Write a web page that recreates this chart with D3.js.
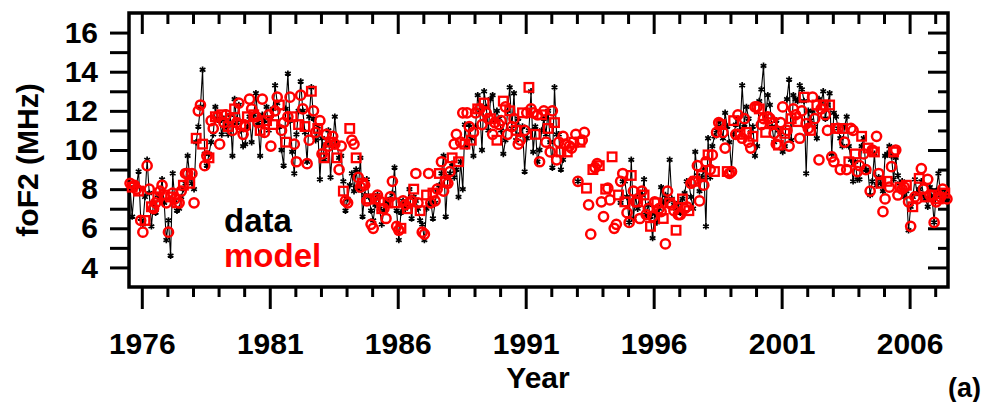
<!DOCTYPE html>
<html>
<head>
<meta charset="utf-8">
<script src="https://cdn.jsdelivr.net/npm/d3@7"></script>
<style>
  body { margin: 0; background: #fff; }
  svg text { font-family: "Liberation Sans", Arial, Helvetica, sans-serif; font-weight: bold; }
</style>
</head>
<body>
<svg id="chart" width="997" height="402"></svg>
<script>
// monthly foF2 values, first point = July 1975
const startYear = 1975;
const startMonth = 6; // 0-based -> July

// measured foF2 (MHz), null = no data
const dataValues = [
  8.1, 6.6, 8.0, 8.2, 8.9, 6.5,                                   // 1975 Jul-Dec
  6.2, 7.6, 9.5, 7.8, 6.1, 7.3, 6.8, 7.7, 7.6, 8.5, 7.3, 5.4,     // 1976
  6.4, 4.6, 8.8, 7.4, 6.9, 7.0, 7.6, 8.0, 8.3, 9.7, 8.6, 8.3,     // 1977
  8.0, 10.4, 11.2, 12.2, 14.1, 9.8, 9.2, 9.8, 10.4, 10.8, 12.2, 11.6,
  11.5, 10.8, 11.6, 11.2, 10.8, 11.8, 9.7, 12.6, 11.4, 12.3, 11.0, 10.2,
  10.3, 11.2, 11.7, 10.4, 11.8, 12.9, 11.4, 9.7, 11.8, 11.5, 12.2, 11.0, // 1980
  11.6, 12.1, 13.3, 12.4, 11.2, 10.0, 9.2, 12.1, 13.9, 11.5, 9.9, 8.8,
  10.8, 12.0, 13.5, 12.0, 10.9, 9.4, 11.7, 13.2, 11.6, 10.5, 11.2, 8.5,
  10.6, 9.5, 10.3, 11.0, 8.6, 10.2, 11.7, 10.3, 9.6, 9.7, 8.4, 6.9,
  7.5, 8.2, 8.8, 7.9, 9.0, 8.0, 9.6, 6.6, 7.7, 8.5, 7.6, 6.9,
  6.4, 7.2, 7.7, 7.0, 6.2, 6.9, 7.4, 7.2, 7.5, 7.8, 9.1, 6.9,     // 1985
  5.4, 6.8, 7.4, 7.0, 7.2, 8.0, 6.5, 7.6, 7.4, 7.0, 6.4, 6.2,
  5.4, 7.0, 7.2, 7.4, 6.5, 7.3, 7.9, 8.2, 8.8, 9.7, 6.6, 8.6,
  8.8, 9.3, 8.6, 9.0, 7.6, 9.4, 8.0, 11.3, 10.2, 11.3, 10.6, 9.7,
  11.2, 12.8, 12.0, 10.0, 13.0, 12.2, 11.0, 12.6, 12.8, 11.5, 12.0, 11.6,
  11.0, 9.8, 10.5, 12.0, 13.2, 11.1, 12.9, 10.5, 11.6, 10.8, 11.2, 8.9, // 1990
  10.6, 11.0, 13.0, 9.9, 11.2, 9.4, 10.0, 11.0, 11.6, 10.8, 12.0, 10.4,
  9.1, 13.2, 10.8, 10.8, 9.0, 9.5, null, null, null, null, null, null,
  8.4, null, null, null, null, null, null, null, null, null, null, null,
  null, null, null, null, null, null, null, null, 7.3, 8.4, 8.4, 7.6,
  6.3, 9.5, 6.5, 7.6, 7.0, 7.8, 7.7, 8.5, 6.7, 7.2, 6.6, 5.5,     // 1995
  6.8, 6.3, 7.0, 8.1, 7.3, 7.7, 7.4, 9.5, 7.5, 7.2, 7.0, 7.3,
  6.8, 7.5, 7.8, 8.4, 8.3, 7.6, 7.0, 9.9, 8.7, 7.9, 8.6, 9.0,
  6.1, 10.6, 8.6, 10.2, 10.7, 11.0, 11.5, 11.2, 10.6, 11.9, 11.2, 10.4,
  9.0, 10.8, 11.3, 11.6, 11.0, 13.3, 11.3, 12.2, 11.6, 10.9, 11.2, 9.7,
  10.2, 12.5, 13.1, 14.3, 11.7, 12.8, 12.3, 11.2, 10.4, 11.5, 11.0, 10.8, // 2000
  9.9, 10.2, 12.6, 13.6, 10.5, 12.8, 12.6, 12.5, 13.3, 13.1, 12.5, 8.8,
  12.0, 11.5, 12.0, 11.2, 10.6, 12.6, 12.4, 13.0, 11.6, 12.3, 12.9, 9.8,
  11.9, 11.7, 11.1, 10.6, 10.2, 11.2, 11.7, 10.2, 9.5, 8.4, 9.4, 8.5,
  8.5, 10.2, 10.6, 9.0, 8.9, 7.7, 8.4, 9.8, 8.2, 8.6, 8.3, 7.9,
  9.7, 9.8, 10.2, 9.7, 8.5, 9.6, 8.7, 8.3, 8.4, 7.6, 7.9, 5.9,    // 2005
  7.1, 7.6, 8.5, 7.8, 8.0, 8.4, 7.7, 7.5, 7.1, 8.1, 7.6, 6.3,
  7.9, 8.8, 7.7, 7.5, 7.8, 7.4                                    // 2007 Jan-Jun
];

// model foF2 (MHz)
const modelValues = [
  8.3, 8.1, 8.2, 8.0, 7.9, 6.4,
  5.8, 6.4, 9.2, 8.0, 7.1, 7.0, 7.3, 7.6, 7.9, 8.2, 7.7, 7.3,
  5.8, 7.6, 7.8, 7.5, 7.3, 7.3, 7.9, 8.2, 8.8, 8.8, 8.3, 8.8,
  7.3, 10.6, 12.0, 12.3, 10.3, 9.2, 9.7, 9.6, 11.5, 11.1, 11.7, 11.7,
  10.3, 11.8, 11.4, 11.8, 11.2, 11.6, 11.0, 12.1, 11.4, 12.4, 11.3, 10.8,
  11.2, 11.7, 12.6, 12.1, 11.8, 11.7, 11.4, 11.0, 12.6, 10.9, 11.5, 11.8,
  10.2, 11.3, 12.0, 12.7, 12.3, 11.0, 11.4, 10.4, 11.7, 12.7, 11.7, 10.3,
  9.4, 11.3, 12.8, 12.1, 11.2, 9.3, 10.5, 13.0, 12.0, 10.9, 11.1, 11.5,
  9.8, 9.6, 10.8, 10.2, 10.4, 10.7, 10.3, 9.6, 9.0, 10.2, 7.9, 7.4,
  7.3, 11.1, 10.5, 10.3, 9.6, 8.6, 8.1, 8.3, 8.2, 7.4, 7.5, 6.2,
  6.0, 7.5, 7.7, 7.4, 7.0, 7.0, 6.5, 7.3, 7.6, 8.4, 7.3, 6.1,
  5.9, 6.0, 7.4, 7.2, 7.0, 7.3, 7.4, 8.0, 8.8, 7.3, 6.9, 5.8,
  5.7, 7.7, 8.8, 7.3, 7.8, 7.4, 8.0, 8.8, 9.4, 7.9, 8.4, 8.3,
  8.9, 9.6, 10.3, 10.8, 9.4, 10.4, 11.9, 10.3, 11.9, 11.2, 10.5, 10.9,
  11.9, 12.1, 12.1, 11.3, 12.4, 11.9, 11.6, 11.6, 10.8, 11.4, 10.5, 11.3,
  11.5, 12.5, 12.2, 10.8, 12.0, 11.2, 11.6, 11.0, 10.3, 10.5, 11.9, 11.0,
  11.9, 13.2, 12.1, 11.9, 10.8, 11.8, 9.4, 11.8, 12.0, 10.4, 11.1, 9.9,
  12.0, 11.4, 9.5, 10.4, 9.9, 10.7, 10.3, 9.9, 10.2, 10.1, 10.4, 10.8,
  8.4, 10.4, 10.5, 10.9, 8.05, 7.2, 5.7, 9.0, 9.1, 9.3, 9.2, 7.35,
  6.6, 8.0, 8.05, 7.45, 9.65, 6.0, 6.2, 7.7, 8.4, 8.8, 7.35, 6.8,
  6.3, 8.7, 7.9, 7.35, 7.35, 6.5, 7.9, 7.7, 6.7, 7.0, 6.1, 6.6,
  7.35, 7.3, 7.0, 6.85, 6.5, 5.2, 7.9, 7.3, 7.2, 6.9, 5.9, 6.7,
  6.7, 7.5, 7.0, 7.1, 6.9, 8.3, 8.4, 8.4, 9.2, 7.4, 8.7, 8.2,
  9.4, 9.75, 9.0, 9.75, 8.9, 10.9, 11.4, 11.3, 10.9, 10.1, 8.9, 8.8,
  8.9, 11.5, 10.8, 11.8, 10.8, 10.6, 11.6, 10.9, 10.4, 10.1, 10.7, 12.2,
  12.2, 12.1, 11.3, 11.6, 10.9, 11.7, 11.6, 11.4, 10.85, 10.3, 10.25, 11.4,
  12.2, 10.85, 11.0, 10.2, 11.6, 12.1, 11.8, 11.45, 10.6, 12.0, 12.7, 11.35,
  11.1, 11.0, 12.7, 11.6, 12.3, 9.5, 12.1, 12.3, 11.8, 11.0, 12.3, 9.65,
  9.4, 11.1, 11.1, 9.0, 11.1, 10.4, 9.0, 9.4, 11.1, 11.0, 9.8, 8.9,
  9.2, 10.7, 9.8, 9.0, 10.1, 7.9, 10.0, 9.9, 10.7, 8.8, 8.3, 6.85,
  7.5, 8.4, 8.1, 9.15, 9.9, 10.0, 7.7, 8.1, 8.0, 8.1, 8.2, 7.35,
  6.1, 7.1, 7.6, 7.5, 8.55, 9.05, 8.0, 7.6, 8.5, 7.7, 7.7, 6.3,
  7.35, 7.5, 7.6, 8.0, 7.8, 7.5
];

const yearTicks = d3.range(1976, 2008);
const yearLabels = [1976, 1981, 1986, 1991, 1996, 2001, 2006];
const yTicks = d3.range(4, 17);
const yLabels = [4, 6, 8, 10, 12, 14, 16];

const svg = d3.select("#chart");
const plotLeft = 129, plotRight = 948, plotTop = 13, plotBottom = 287;

const x = d3.scaleLinear().domain([1975.5, 2007.5]).range([plotLeft, plotRight]);
const y = d3.scaleLinear().domain([3, 17]).range([plotBottom, plotTop]);

const monthPos = i => startYear + (startMonth + i + 0.5) / 12;

const dataPts = dataValues.map((v, i) => ({ t: monthPos(i), v: v }));
const modelPts = modelValues.map((v, i) => ({ t: monthPos(i), v: v, sq: i % 3 === 1 }));

// axes helper
function drawAxis(axis, transform) {
  const g = svg.append("g").attr("transform", transform).call(axis);
  g.select(".domain").remove();
  g.selectAll(".tick line").attr("stroke", "#000").attr("stroke-width", 3);
  g.selectAll(".tick text").attr("fill", "#000").attr("font-size", 30)
    .attr("font-family", '"Liberation Sans", Arial, sans-serif').attr("font-weight", "bold");
  return g;
}
const minorYears = yearTicks.filter(d => !yearLabels.includes(d));
const minorY = yTicks.filter(d => !yLabels.includes(d));

// bottom: outward
drawAxis(d3.axisBottom(x).tickValues(minorYears).tickSize(10).tickFormat(""), `translate(0,${plotBottom})`);
drawAxis(d3.axisBottom(x).tickValues(yearLabels).tickSize(22).tickPadding(24).tickFormat(d3.format("d")), `translate(0,${plotBottom})`);
// top: inward
drawAxis(d3.axisTop(x).tickValues(minorYears).tickSize(-11).tickFormat(""), `translate(0,${plotTop})`);
drawAxis(d3.axisTop(x).tickValues(yearLabels).tickSize(-21).tickFormat(""), `translate(0,${plotTop})`);
// left: outward, all same length
drawAxis(d3.axisLeft(y).tickValues(yTicks).tickSize(19).tickPadding(12)
  .tickFormat(d => yLabels.includes(d) ? d : ""), `translate(${plotLeft},0)`);
// right: inward
drawAxis(d3.axisRight(y).tickValues(minorY).tickSize(-10).tickFormat(""), `translate(${plotRight},0)`);
drawAxis(d3.axisRight(y).tickValues(yLabels).tickSize(-20).tickFormat(""), `translate(${plotRight},0)`);

// frame
svg.append("rect")
  .attr("x", plotLeft).attr("y", plotTop)
  .attr("width", plotRight - plotLeft).attr("height", plotBottom - plotTop)
  .attr("fill", "none").attr("stroke", "#000").attr("stroke-width", 3.5);

const plot = svg.append("g");

// data line
const line = d3.line()
  .defined(d => d.v !== null)
  .x(d => x(d.t)).y(d => y(d.v));
plot.append("path")
  .datum(dataPts)
  .attr("fill", "none")
  .attr("stroke", "#000")
  .attr("stroke-width", 1.1)
  .attr("d", line);

// data markers
plot.selectAll(".dmark")
  .data(dataPts.filter(d => d.v !== null))
  .enter().append("path")
  .attr("class", "dmark")
  .attr("transform", d => `translate(${x(d.t)},${y(d.v)})`)
  .attr("d", d3.symbol(d3.symbolAsterisk, 30))
  .attr("fill", "none")
  .attr("stroke", "#000")
  .attr("stroke-width", 1.7);

// model markers
plot.selectAll(".mcirc")
  .data(modelPts.filter(d => !d.sq))
  .enter().append("circle")
  .attr("class", "mcirc")
  .attr("cx", d => x(d.t)).attr("cy", d => y(d.v))
  .attr("r", 4.6)
  .attr("fill", "none")
  .attr("stroke", "#ff0000")
  .attr("stroke-width", 2.5);

plot.selectAll(".msq")
  .data(modelPts.filter(d => d.sq))
  .enter().append("rect")
  .attr("class", "msq")
  .attr("x", d => x(d.t) - 4.3).attr("y", d => y(d.v) - 4.3)
  .attr("width", 8.6).attr("height", 8.6)
  .attr("fill", "none")
  .attr("stroke", "#ff0000")
  .attr("stroke-width", 2.3);

// legend
svg.append("text").attr("x", 224).attr("y", 232)
  .attr("font-size", 33).attr("fill", "#000").text("data");
svg.append("text").attr("x", 224).attr("y", 267)
  .attr("font-size", 33).attr("fill", "#ff0000").text("model");

// axis titles
svg.append("text")
  .attr("x", 538).attr("y", 388)
  .attr("text-anchor", "middle")
  .attr("font-size", 30).text("Year");

svg.append("text")
  .attr("transform", "translate(38,160) rotate(-90)")
  .attr("text-anchor", "middle")
  .attr("font-size", 30).text("foF2 (MHz)");

svg.append("text")
  .attr("x", 948).attr("y", 397)
  .attr("font-size", 27).text("(a)");
</script>
</body>
</html>
